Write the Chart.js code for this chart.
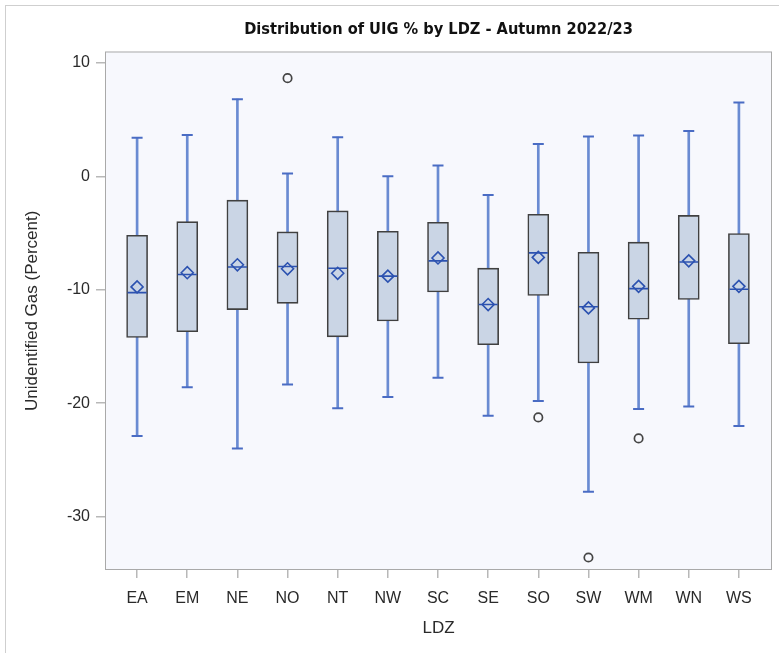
<!DOCTYPE html>
<html>
<head>
<meta charset="utf-8">
<title>Distribution of UIG % by LDZ - Autumn 2022/23</title>
<script src="https://cdn.jsdelivr.net/npm/chart.js@4/dist/chart.umd.min.js"></script>
<style>
  html, body { margin: 0; padding: 0; background: #ffffff; }
  #wrap { position: relative; width: 779px; height: 653px; }
  #frame { position: absolute; left: 5px; top: 5px; right: 0; bottom: 0;
           border-left: 1px solid #cfcfcf; border-top: 1px solid #cfcfcf; }
  canvas { position: absolute; left: 0; top: 0; }
</style>
</head>
<body>
<div id="wrap">
  <div id="frame"></div>
  <canvas id="chart" width="779" height="653"></canvas>
</div>
<script>
// LDZ categories and the box-plot statistics of UIG % for each
const ldz        = ['EA', 'EM', 'NE', 'NO', 'NT', 'NW', 'SC', 'SE', 'SO', 'SW', 'WM', 'WN', 'WS'];
const whiskerLow = [-22.9, -18.6, -24.0, -18.35, -20.45, -19.45, -17.75, -21.1, -19.8, -27.8, -20.5, -20.3, -22.0];
const q1         = [-14.2, -13.7, -11.75, -11.2, -14.15, -12.75, -10.2, -14.85, -10.5, -16.45, -12.6, -10.85, -14.75];
const median     = [-10.25, -8.65, -8.0, -7.95, -8.1, -8.8, -7.45, -11.3, -6.75, -11.5, -9.9, -7.55, -9.95];
const mean       = [-9.75, -8.5, -7.8, -8.15, -8.55, -8.8, -7.2, -11.3, -7.15, -11.6, -9.7, -7.45, -9.7];
const q3         = [-5.2, -4.0, -2.1, -4.9, -3.05, -4.85, -4.05, -8.1, -3.35, -6.7, -5.8, -3.45, -5.05];
const whiskerHigh= [3.4, 3.65, 6.8, 0.25, 3.45, 0.0, 0.95, -1.65, 2.85, 3.5, 3.6, 4.0, 6.5];
// outlying observations: category index and value
const outlierCat = [3, 8, 9, 10];
const outlierVal = [8.65, -21.25, -33.6, -23.1];
const yTicks     = [-30, -20, -10, 0, 10];

const atCat = arr => arr.map((v, i) => ({ x: i, y: v }));

const WHISKER = '#6a8bd2';
const CAP     = '#4a6cc4';
const MEDIAN  = '#2c52b0';
const BOXFILL = '#cad5e5';
const BOXLINE = '#404040';

// plot wall: light fill and a grey frame around the data area
const wall = {
  id: 'wall',
  beforeDatasetsDraw(chart) {
    const { ctx, chartArea: a } = chart;
    ctx.save();
    ctx.fillStyle = '#f7f8fd';
    ctx.fillRect(a.left, a.top, a.right - a.left, a.bottom - a.top);
    ctx.restore();
  },
  afterDatasetsDraw(chart) {
    const { ctx, chartArea: a } = chart;
    ctx.save();
    ctx.strokeStyle = '#a9a9a9';
    ctx.lineWidth = 1;
    ctx.strokeRect(a.left + 0.5, a.top + 0.5, a.right - a.left - 1, a.bottom - a.top - 1);
    ctx.restore();
  }
};

const labelFont = "'Liberation Sans', Arial, sans-serif";

new Chart(document.getElementById('chart'), {
  type: 'bar',
  data: {
    datasets: [
      { // whisker stems, min to max
        type: 'bar',
        data: ldz.map((_, i) => ({ x: i, y: [whiskerLow[i], whiskerHigh[i]] })),
        backgroundColor: WHISKER,
        borderWidth: 0,
        barThickness: 2,
        grouped: false,
        order: 6
      },
      { // interquartile boxes
        type: 'bar',
        data: ldz.map((_, i) => ({ x: i, y: [q1[i], q3[i]] })),
        backgroundColor: BOXFILL,
        borderColor: BOXLINE,
        borderWidth: 1.6,
        borderSkipped: false,
        barThickness: 21,
        grouped: false,
        order: 5
      },
      { // whisker caps
        type: 'scatter',
        data: atCat(whiskerLow).concat(atCat(whiskerHigh)),
        pointStyle: 'line',
        radius: 5.5,
        borderColor: CAP,
        borderWidth: 2,
        order: 4
      },
      { // medians
        type: 'scatter',
        data: atCat(median),
        pointStyle: 'line',
        radius: 9.5,
        borderColor: MEDIAN,
        borderWidth: 1.6,
        order: 3
      },
      { // means
        type: 'scatter',
        data: atCat(mean),
        pointStyle: 'rectRot',
        radius: 6,
        backgroundColor: 'rgba(0,0,0,0)',
        borderColor: MEDIAN,
        borderWidth: 1.6,
        order: 2
      },
      { // outliers
        type: 'scatter',
        data: outlierCat.map((c, k) => ({ x: c, y: outlierVal[k] })),
        pointStyle: 'circle',
        radius: 4.2,
        backgroundColor: 'rgba(0,0,0,0)',
        borderColor: '#454545',
        borderWidth: 1.7,
        order: 1
      }
    ]
  },
  options: {
    responsive: false,
    animation: false,
    events: [],
    layout: { autoPadding: false, padding: { left: 0, right: 7, top: 0, bottom: 0 } },
    plugins: {
      legend: { display: false },
      tooltip: { enabled: false },
      title: {
        display: true,
        fullSize: false,
        text: 'Distribution of UIG % by LDZ - Autumn 2022/23',
        color: '#111111',
        font: { family: "'Liberation Sans Narrow', 'DejaVu Sans Condensed', Arial, sans-serif", size: 16.25, weight: 'bold' },
        padding: { top: 20, bottom: 12 }
      }
    },
    scales: {
      x: {
        type: 'linear',
        offset: false,
        min: -0.64,
        max: 12.66,
        afterBuildTicks: s => { s.ticks = ldz.map((_, i) => ({ value: i })); },
        afterFit: s => { s.height = 83; s.paddingLeft = 0; s.paddingRight = 0; },
        ticks: {
          callback: v => ldz[v],
          color: '#2a2a2a',
          font: { family: labelFont, size: 16 },
          padding: 11,
          maxRotation: 0
        },
        grid: { display: true, offset: false, drawOnChartArea: false, tickLength: 8, color: '#b8b8b8', lineWidth: 1.5 },
        border: { display: false },
        title: {
          display: true,
          text: 'LDZ',
          color: '#2a2a2a',
          font: { family: labelFont, size: 17 },
          padding: { top: 8, bottom: 14 }
        }
      },
      y: {
        min: -34.7,
        max: 11.0,
        afterBuildTicks: s => { s.ticks = yTicks.map(v => ({ value: v })); },
        afterFit: s => { s.width = 105; },
        ticks: {
          color: '#2a2a2a',
          font: { family: labelFont, size: 16 },
          padding: 6
        },
        grid: { display: true, drawOnChartArea: false, tickLength: 9, color: '#b8b8b8', lineWidth: 1.5 },
        border: { display: false },
        title: {
          display: true,
          text: 'Unidentified Gas (Percent)',
          color: '#2a2a2a',
          font: { family: labelFont, size: 17 },
          padding: { top: 22, bottom: 0 }
        }
      }
    }
  },
  plugins: [wall]
});
</script>
</body>
</html>
